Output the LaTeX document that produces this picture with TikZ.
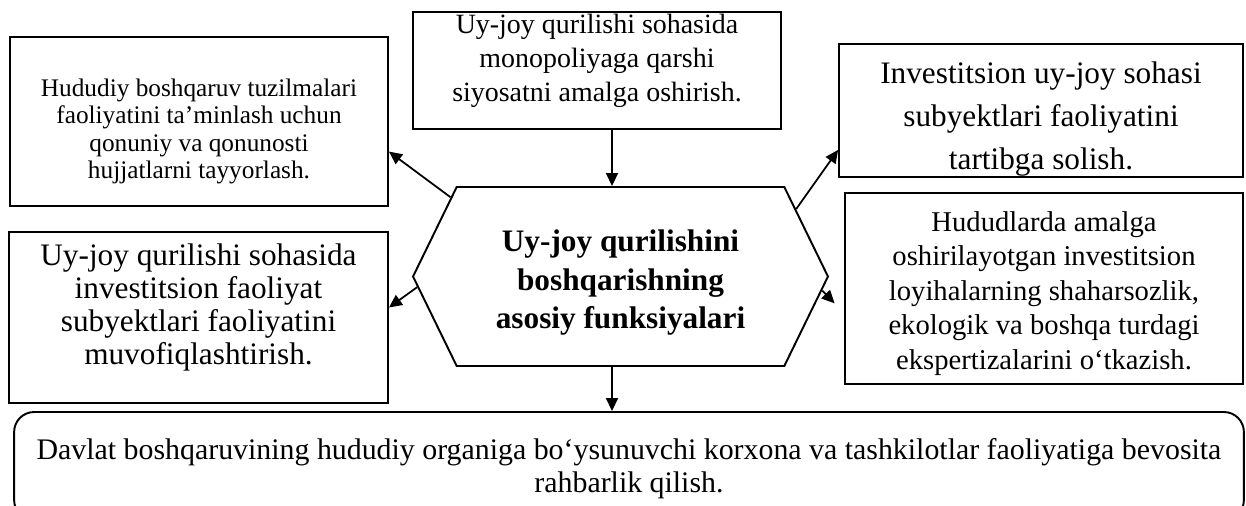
\documentclass[tikz,border=0pt]{standalone}
\usepackage{fontspec}
\setmainfont{Liberation Serif}
\usetikzlibrary{arrows.meta,shapes.symbols}

\tikzset{
  fbox/.style={draw, line width=1.1pt, align=center, inner sep=0pt},
  link/.style={-{Triangle[length=0.26cm,width=0.24cm]}, line width=1pt},
}

\begin{document}
\begin{tikzpicture}[x=0.02cm, y=-0.02cm]
  \clip (0,0) rectangle (1246,506);
  % central hexagon
  \node[signal, signal to=east and west, signal pointer angle=128, draw, line width=1.1pt,
        minimum width=8.3cm, minimum height=3.58cm, align=center, inner sep=0pt,
        font={\fontsize{17.8pt}{21.8pt}\selectfont\bfseries}] (hex) at (620.5,276.5)
    {\rule{0pt}{19.5pt}Uy-joy qurilishini\\ boshqarishning\\ asosiy funksiyalari};
  % boxes round it
  \node[fbox, minimum width=7.56cm, minimum height=3.38cm,
        font={\fontsize{14.4pt}{15.4pt}\selectfont}] (lawbox) at (199,121.5)
    {\rule{0pt}{21.3pt}Hududiy boshqaruv tuzilmalari\\ faoliyatini ta’minlash uchun\\ qonuniy va qonunosti\\ hujjatlarni tayyorlash.};
  \node[fbox, minimum width=7.36cm, minimum height=2.34cm,
        font={\fontsize{15.9pt}{19.3pt}\selectfont}] (monobox) at (597,70.5)
    {Uy-joy qurilishi sohasida\\ monopoliyaga qarshi\\ siyosatni amalga oshirish.\rule[-0.52cm]{0pt}{0pt}};
  \node[fbox, minimum width=8.08cm, minimum height=2.62cm,
        font={\fontsize{17.8pt}{24.5pt}\selectfont}] (regbox) at (1041,110.5)
    {\rule{0pt}{22.5pt}Investitsion uy-joy sohasi\\ subyektlari faoliyatini\\ tartibga solish.};
  \node[fbox, minimum width=7.58cm, minimum height=3.42cm,
        font={\fontsize{17.8pt}{18.8pt}\selectfont}] (coordbox) at (198.5,317.5)
    {Uy-joy qurilishi sohasida\\ investitsion faoliyat\\ subyektlari faoliyatini\\ muvofiqlashtirish.\rule[-0.52cm]{0pt}{0pt}};
  \node[fbox, minimum width=7.96cm, minimum height=3.82cm,
        font={\fontsize{16.3pt}{19.7pt}\selectfont}] (expbox) at (1044,288.5)
    {\rule{0pt}{16.9pt}Hududlarda amalga\\ oshirilayotgan investitsion\\ loyihalarning shaharsozlik,\\ ekologik va boshqa turdagi\\ ekspertizalarini o‘tkazish.};
  \node[fbox, rounded corners=0.4cm, minimum width=24.6cm, minimum height=2.16cm,
        font={\fontsize{17pt}{19pt}\selectfont}] (leadbox) at (629,466)
    {\rule{0pt}{15.3pt}Davlat boshqaruvining hududiy organiga bo‘ysunuvchi korxona va tashkilotlar faoliyatiga bevosita\\ rahbarlik qilish.};
  % arrows
  \coordinate (axis) at (612,0);
  \draw[link] (monobox.south -| axis) -- (hex.north -| axis);
  \draw[link] (hex.south -| axis) -- (leadbox.north -| axis);
  \draw[link] (hex.155.8) -- (lawbox.-9.5);
  \draw[link] (hex.21.4) -- (regbox.191.9);
  \draw[link] (hex.183.8) -- (coordbox.3.8);
  \draw[link, shorten >=0.27cm] (hex.-4.4) -- (expbox.187.2);
\end{tikzpicture}
\end{document}
